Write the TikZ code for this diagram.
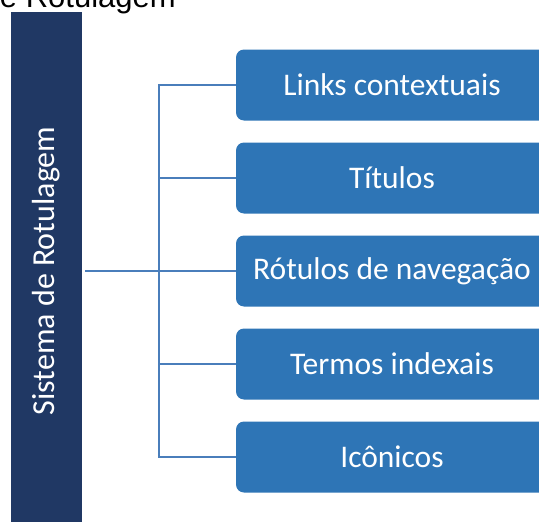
\documentclass[tikz,border=0pt]{standalone}
\usepackage{fontspec}
\setmainfont{Carlito}
\newfontfamily\titlefont{Liberation Sans}
\definecolor{barblue}{RGB}{32,56,100}
\definecolor{boxblue}{RGB}{46,117,182}
\definecolor{lineblue}{RGB}{74,126,187}
\begin{document}
\begin{tikzpicture}[x=1pt,y=-1pt,labelbox/.style={shape=rectangle,rounded corners=8pt,fill=boxblue,text=white,minimum width=312pt,minimum height=71pt,font=\fontsize{31.5}{36}\selectfont},sysbar/.style={shape=rectangle,fill=barblue,text=white,rotate=90,minimum width=518pt,minimum height=71pt,font=\fontsize{32}{38}\selectfont},branch/.style={draw=lineblue,line width=2.5pt}]
\useasboundingbox (0,0) rectangle (539,522);
\clip (0,0) rectangle (539,522);
\node[anchor=base east,inner sep=0pt,font=\titlefont\fontsize{31}{36}\selectfont] (T) at (176,7) {Sistema de Rotulagem};
\node[sysbar] (S) at (46.5,271) {Sistema de Rotulagem};
\node[labelbox] (L) at (392,85) {Links contextuais};
\node[labelbox] (TI) at (392,178) {Títulos};
\node[labelbox] (RN) at (392,271) {Rótulos de navegação};
\node[labelbox] (TE) at (392,364) {Termos indexais};
\node[labelbox] (IC) at (392,457) {Icônicos};
\coordinate (J) at (159,271);
\draw[branch] ([xshift=3pt]S.south) -- (J);
\draw[branch] (J) |- (L.west);
\draw[branch] (J) |- (TI.west);
\draw[branch] (J) -- (RN.west);
\draw[branch] (J) |- (TE.west);
\draw[branch] (J) |- (IC.west);
\end{tikzpicture}
\end{document}
